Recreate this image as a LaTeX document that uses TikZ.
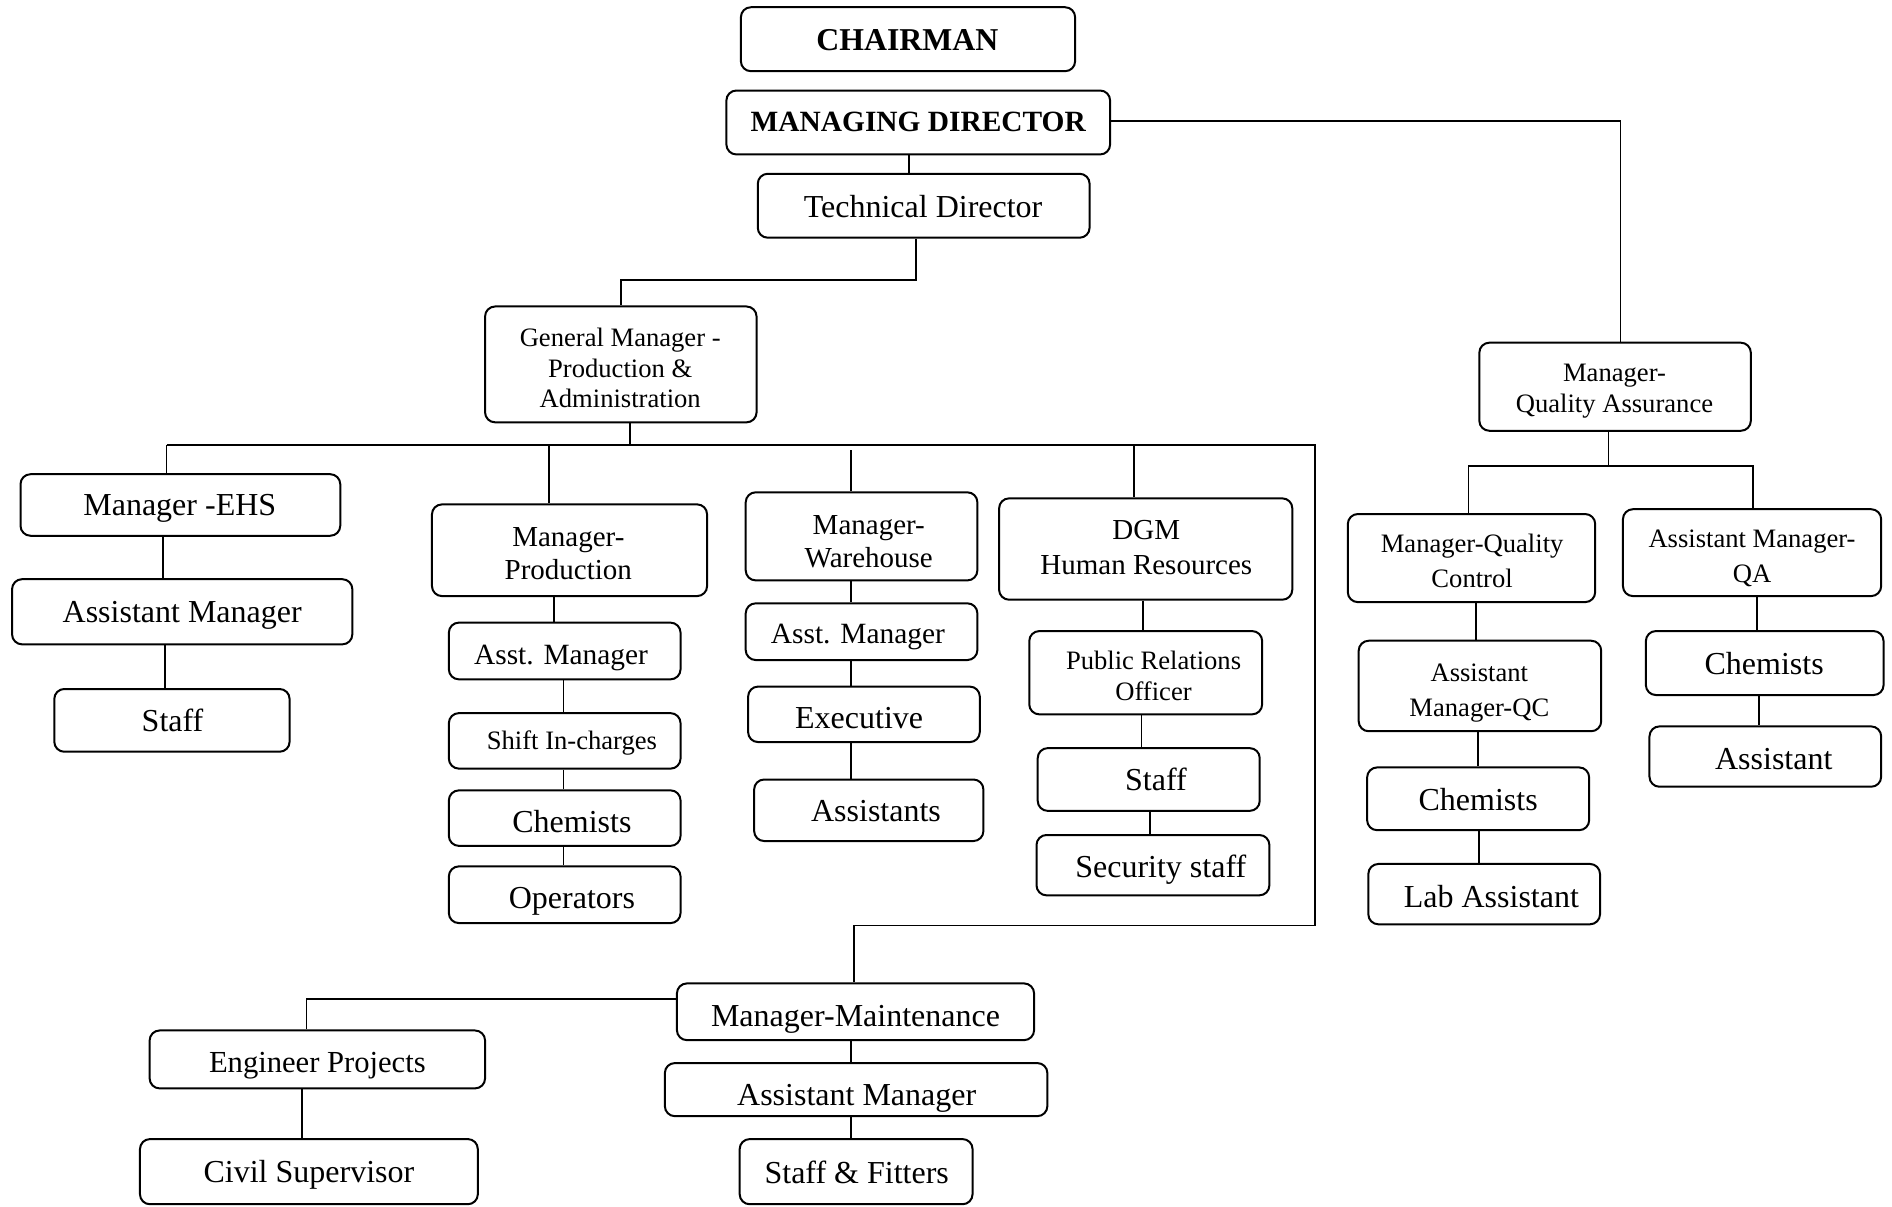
\documentclass[tikz,border=0pt]{standalone}
\usepackage{fontspec}
\setmainfont{Liberation Serif}
\usetikzlibrary{fit}
\tikzset{
  box/.style={draw, line width=1pt, rounded corners=5pt, inner sep=0pt},
  lbl/.style={align=center, inner sep=0pt},
  conn/.style={line width=0.95pt},
  fB/.style={font=\fontsize{15.9}{18}\selectfont\bfseries},
  fBs/.style={font=\fontsize{14.7}{17}\selectfont\bfseries},
  f16/.style={font=\fontsize{16}{18.4}\selectfont},
  f15/.style={font=\fontsize{15.3}{17.6}\selectfont},
  f147/.style={font=\fontsize{14.7}{17}\selectfont},
  f145/.style={font=\fontsize{14.5}{16.3}\selectfont},
  f145w/.style={font=\fontsize{14.5}{17.5}\selectfont},
  f13/.style={font=\fontsize{13.3}{15.3}\selectfont},
  f13w/.style={font=\fontsize{13.3}{17.5}\selectfont}
}
\newcommand\orgbox[9]{%
  \node[box, fit={(#2,#3) (#4,#5)}] (#1) {};
  \node[lbl, #8] (#1-t) at (#6,#7) {#9};}
\newcommand\vconn[3]{%
  \path (#3,0) coordinate (vx);
  \draw[conn] (#1.south -| vx) -- (#2.north -| vx);}
\begin{document}
\begin{tikzpicture}[x=0.6033pt,y=-0.6033pt]
\useasboundingbox (0,0) rectangle (1568,1000);

\orgbox{ch}{614}{6}{891}{59}{752}{33}{fB}{CHAIRMAN}
\orgbox{md}{602}{75}{920}{128}{761}{101}{fBs}{MANAGING DIRECTOR}
\orgbox{td}{628}{144}{903}{197}{765}{171}{f16}{Technical Director}
\orgbox{gm}{402}{254}{627}{350}{514}{305}{f13}{General Manager -\\Production \&\\Administration}
\orgbox{mqa}{1226}{284}{1451}{357}{1338}{324}{f13}{Manager-\\Quality Assurance}
\orgbox{ehs}{17}{393}{282}{444}{149}{421}{f16}{Manager -EHS}
\orgbox{ehsam}{10}{480}{292}{534}{151}{510}{f16}{Assistant Manager}
\orgbox{ehsst}{45}{571}{240}{623}{143}{597}{f16}{Staff}
\orgbox{mprod}{358}{418}{586}{494}{471}{459}{f145}{Manager-\\Production}
\orgbox{pam}{372}{516}{564}{563}{465}{545}{f147}{Asst. Manager}
\orgbox{shift}{372}{591}{564}{637}{474}{616}{f13}{Shift In-charges}
\orgbox{pchem}{372}{655}{564}{701}{474}{681}{f16}{Chemists}
\orgbox{oper}{372}{718}{564}{765}{474}{747}{f16}{Operators}
\orgbox{mwh}{618}{408}{810}{481}{720}{449}{f145}{Manager-\\Warehouse}
\orgbox{wam}{618}{500}{810}{547}{711}{528}{f147}{Asst. Manager}
\orgbox{exec}{620}{569}{812}{615}{712}{595}{f16}{Executive}
\orgbox{asst}{625}{646}{815}{697}{726}{672}{f16}{Assistants}
\orgbox{dgm}{828}{413}{1071}{497}{950}{454}{f145w}{DGM\\Human Resources}
\orgbox{pro}{853}{523}{1046}{592}{956}{560}{f13}{Public Relations\\Officer}
\orgbox{hrst}{860}{620}{1044}{672}{958}{646}{f16}{Staff}
\orgbox{sec}{859}{692}{1052}{742}{962}{721}{f16}{Security staff}
\orgbox{mqc}{1117}{426}{1322}{499}{1220}{465}{f13w}{Manager-Quality\\Control}
\orgbox{amqa}{1345}{422}{1559}{494}{1452}{463}{f13w}{Assistant Manager-\\QA}
\orgbox{amqc}{1126}{531}{1327}{606}{1226}{574}{f13w}{Assistant\\Manager-QC}
\orgbox{qcchem}{1133}{636}{1317}{688}{1225}{663}{f16}{Chemists}
\orgbox{lab}{1134}{716}{1326}{766}{1236}{743}{f16}{Lab Assistant}
\orgbox{qachem}{1364}{523}{1561}{576}{1462}{550}{f16}{Chemists}
\orgbox{qaasst}{1367}{602}{1559}{652}{1470}{629}{f16}{Assistant}
\orgbox{mmaint}{561}{815}{857}{862}{709}{845}{f16}{Manager-Maintenance}
\orgbox{mam}{551}{881}{868}{925}{710}{910}{f16}{Assistant Manager}
\orgbox{sf}{613}{944}{806}{998}{710}{972}{f16}{Staff \& Fitters}
\orgbox{engp}{124}{854}{402}{902}{263}{883}{f15}{Engineer Projects}
\orgbox{civ}{116}{944}{396}{998}{256}{974}{f16}{Civil Supervisor}

% top connectors
\vconn{md}{td}{753}
\coordinate (tdj) at (759,232);
\coordinate (gmj) at (515,232);
\draw[conn] (td.south -| tdj) -- (tdj) -- (gmj) -- (gm.north -| gmj);
\coordinate (qaj) at (1343,100);
\draw[conn] (md.east |- qaj) -- (qaj) -- (mqa.north -| qaj);

% GM bus
\coordinate (gmb) at (522,369);
\coordinate (busL) at (138,369);
\coordinate (busR) at (1090,369);
\coordinate (busC) at (1090,767);
\coordinate (mtop) at (708,767);
\coordinate (d2) at (455,369);
\coordinate (d3) at (705,373);
\coordinate (d4) at (940,369);
\draw[conn] (gm.south -| gmb) -- (gmb);
\draw[conn] (busL) -- (busR) -- (busC) -- (mtop) -- (mmaint.north -| mtop);
\draw[conn] (busL) -- (ehs.north -| busL);
\draw[conn] (d2) -- (mprod.north -| d2);
\draw[conn] (d3) -- (mwh.north -| d3);
\draw[conn] (d4) -- (dgm.north -| d4);

% QA bus
\coordinate (qab) at (1333,386);
\coordinate (qaL) at (1217,386);
\coordinate (qaR) at (1453,386);
\draw[conn] (mqa.south -| qab) -- (qab);
\draw[conn] (mqc.north -| qaL) -- (qaL) -- (qaR) -- (amqa.north -| qaR);

% maintenance left branch
\coordinate (ml) at (254,828);
\draw[conn] (mmaint.west |- ml) -- (ml) -- (engp.north -| ml);

% vertical chains
\vconn{ehs}{ehsam}{135}
\vconn{ehsam}{ehsst}{137}
\vconn{mprod}{pam}{459}
\vconn{pam}{shift}{467}
\vconn{shift}{pchem}{467}
\vconn{pchem}{oper}{467}
\vconn{mwh}{wam}{705}
\vconn{wam}{exec}{705}
\vconn{exec}{asst}{705}
\vconn{dgm}{pro}{947}
\vconn{pro}{hrst}{946}
\vconn{hrst}{sec}{953}
\vconn{mqc}{amqc}{1223}
\vconn{amqc}{qcchem}{1225}
\vconn{qcchem}{lab}{1226}
\vconn{amqa}{qachem}{1456}
\vconn{qachem}{qaasst}{1458}
\vconn{mmaint}{mam}{705}
\vconn{mam}{sf}{705}
\vconn{engp}{civ}{250}
\end{tikzpicture}
\end{document}
